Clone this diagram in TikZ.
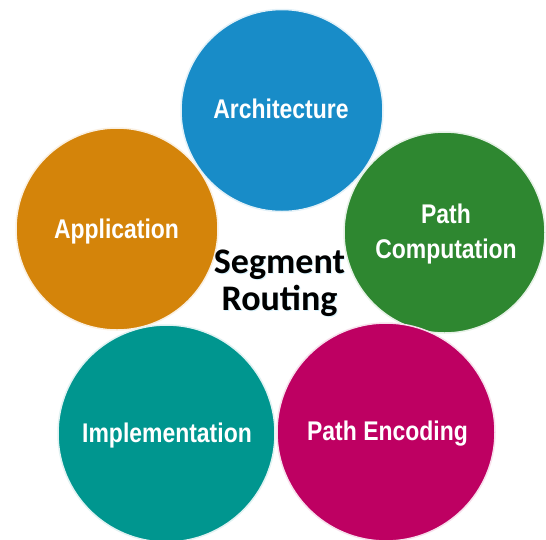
\documentclass[tikz,border=0pt]{standalone}
\usepackage{fontspec}
\newfontfamily\labfont[FakeStretch=0.85]{Liberation Sans}
\newfontfamily\centerfont{Carlito}
\definecolor{cblue}{HTML}{188CC8}
\definecolor{cgreen}{HTML}{2E8730}
\definecolor{corange}{HTML}{D4840A}
\definecolor{cteal}{HTML}{00968F}
\definecolor{cmag}{HTML}{BE0062}
\begin{document}
\begin{tikzpicture}[x=1pt,y=-1pt,
  bubble/.style={circle,fill=#1,draw=#1!12,line width=1.5pt,inner sep=0pt},
  bubtext/.style={anchor=base,text=white,font=\labfont\bfseries\fontsize{27}{35}\selectfont,align=center,inner sep=0pt},
  centertext/.style={anchor=base,text=black,font=\centerfont\bfseries\fontsize{36}{37}\selectfont,align=center,inner sep=0pt}]
\useasboundingbox[fill=white] (0,0) rectangle (546,539);
\node[bubble=cblue,minimum size=202pt] (arch) at (282,110.5) {};
\node[bubble=cgreen,minimum size=201pt] (pcomp) at (444.5,232.5) {};
\node[bubble=corange,minimum size=202pt] (app) at (117,229) {};
\node[bubble=cteal,minimum size=217pt] (impl) at (166.5,433.5) {};
\node[bubble=cmag,minimum size=218pt] (penc) at (386,432) {};
\node[bubtext] (archt) at (281,118) {Architecture};
\node[bubtext] (pcompt) at (446,258) {Path\\Computation};
\node[bubtext] (appt) at (116.5,238) {Application};
\node[bubtext] (implt) at (167,442) {Implementation};
\node[bubtext] (penct) at (387.5,440) {Path Encoding};
\node[centertext,text=cyan!15] (sgshadow) at (280.5,311) {Segment\\Routing};
\node[centertext] (sg) at (279.5,310) {Segment\\Routing};
\end{tikzpicture}
\end{document}
